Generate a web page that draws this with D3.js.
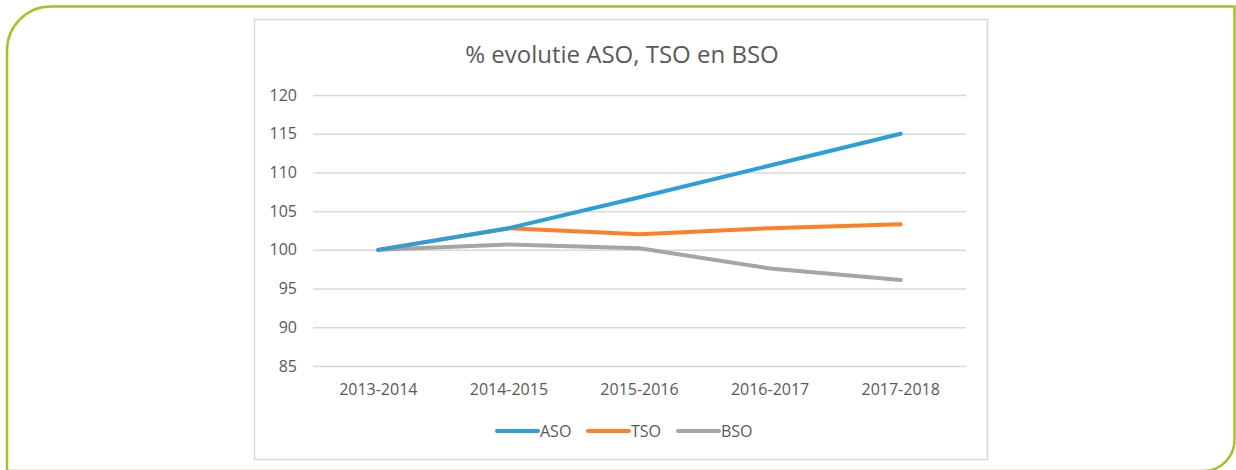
<!DOCTYPE html>
<html>
<head>
<meta charset="utf-8">
<script src="https://cdnjs.cloudflare.com/ajax/libs/d3/7.8.5/d3.min.js"></script>
<style>
    body { margin: 0; background: #fff; }
    svg { display: block; }
    text { font-family: "Open Sans", "DejaVu Sans", sans-serif; fill: #595959; }
</style>
</head>
<body>
<svg id="chart" width="1236" height="470"></svg>
<script>
// chart data
const years = ["2013-2014", "2014-2015", "2015-2016", "2016-2017", "2017-2018"];
const seriesNames = ["ASO", "TSO", "BSO"];
const asoValues = [100, 102.8, 106.8, 110.9, 115.0];
const tsoValues = [100, 102.8, 102.0, 102.8, 103.3];
const bsoValues = [100, 100.7, 100.2, 97.6, 96.1];
const yTicks = [85, 90, 95, 100, 105, 110, 115, 120];
const colors = ["#2a9fdc", "#ff7f27", "#a5a5a5"];

const series = [asoValues, tsoValues, bsoValues].map((vals, i) => ({
    name: seriesNames[i],
    color: colors[i],
    values: vals.map((v, j) => ({ year: years[j], value: v }))
}));

const svg = d3.select("#chart");

// green frame, rounded top-left and bottom-right
const frame = d3.path();
const fl = 7, ft = 6.5, fr = 1234.5, fb = 471, r1 = 44, r2 = 31;
frame.moveTo(fl + r1, ft);
frame.lineTo(fr, ft);
frame.lineTo(fr, fb - r2);
frame.arcTo(fr, fb, fr - r2, fb, r2);
frame.lineTo(fl, fb);
frame.lineTo(fl, ft + r1);
frame.arcTo(fl, ft, fl + r1, ft, r1);
frame.closePath();
svg.append("path")
    .attr("d", frame.toString())
    .attr("fill", "none")
    .attr("stroke", "#a9c023")
    .attr("stroke-width", 2.5);

// chart box
svg.append("rect")
    .attr("x", 254.5)
    .attr("y", 19.5)
    .attr("width", 733)
    .attr("height", 440)
    .attr("fill", "#fff")
    .attr("stroke", "#d9d9d9")
    .attr("stroke-width", 1.5);

const plotLeft = 313, plotRight = 966, plotTop = 95, plotBottom = 366;

const xScale = d3.scaleBand().domain(years).range([plotLeft, plotRight]);
const yScale = d3.scaleLinear().domain([85, 120]).range([plotBottom, plotTop]);
const xc = d => xScale(d) + xScale.bandwidth() / 2;

// gridlines + y labels
const yAxis = svg.append("g")
    .attr("transform", `translate(${plotLeft}, 0)`)
    .call(d3.axisLeft(yScale).tickValues(yTicks).tickSize(-(plotRight - plotLeft)).tickPadding(16));
yAxis.select(".domain").remove();
yAxis.selectAll("line").attr("stroke", "#d9d9d9").attr("stroke-width", 1.5);
yAxis.selectAll("text")
    .attr("font-size", "16px")
    .attr("font-family", null)
    .attr("fill", "#595959");

// x labels
const xAxis = svg.append("g")
    .attr("transform", `translate(0, ${plotBottom})`)
    .call(d3.axisBottom(xScale).tickSize(0).tickPadding(18));
xAxis.select(".domain").remove();
xAxis.selectAll("text")
    .attr("font-size", "16px")
    .attr("font-family", null)
    .attr("fill", "#595959");

// title
svg.append("text")
    .attr("x", 622)
    .attr("y", 63)
    .attr("text-anchor", "middle")
    .attr("font-size", "24px")
    .text("% evolutie ASO, TSO en BSO");

// lines (BSO drawn first so ASO/TSO sit on top)
const lineGen = d3.line()
    .x(d => xc(d.year))
    .y(d => yScale(d.value));

svg.append("g")
    .selectAll("path")
    .data(series.slice().reverse())
    .join("path")
    .attr("fill", "none")
    .attr("stroke", d => d.color)
    .attr("stroke-width", 4)
    .attr("stroke-linecap", "round")
    .attr("stroke-linejoin", "round")
    .attr("d", d => lineGen(d.values));

// legend
const legendX = [497, 588, 678];
const legend = svg.append("g")
    .selectAll("g")
    .data(series)
    .join("g")
    .attr("transform", (d, i) => `translate(${legendX[i]}, 431)`);

legend.append("line")
    .attr("x1", 0)
    .attr("x2", 41)
    .attr("stroke", d => d.color)
    .attr("stroke-width", 4)
    .attr("stroke-linecap", "round");

legend.append("text")
    .attr("x", 43)
    .attr("dy", "0.36em")
    .attr("font-size", "16px")
    .text(d => d.name);
</script>
</body>
</html>
